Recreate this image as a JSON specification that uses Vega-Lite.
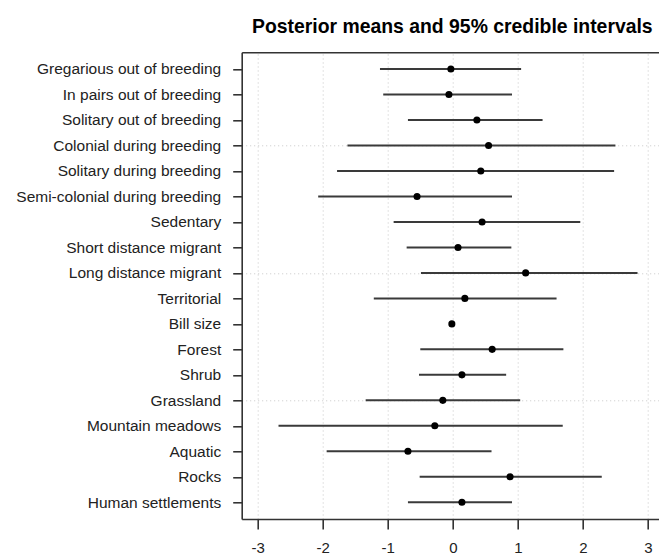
{
  "$schema": "https://vega.github.io/schema/vega-lite/v6.json",
  "autosize": "none",
  "width": 417.3,
  "height": 466.7,
  "padding": {"left": 241.7, "top": 52.3, "right": 0, "bottom": 36.7},
  "background": "white",
  "config": {
    "view": {"stroke": null},
    "font": "Liberation Sans",
    "axis": {"labelFont": "Liberation Sans", "labelColor": "#222", "domainColor": "#333", "domainWidth": 1.6, "tickColor": "#333", "tickWidth": 1.6, "titleFont": "Liberation Sans"}
  },
  "title": {
    "text": "Posterior means and 95% credible intervals",
    "font": "Liberation Sans",
    "fontSize": 19.4,
    "fontWeight": "bold",
    "color": "#000",
    "anchor": "middle",
    "dx": 2,
    "baseline": "alphabetic",
    "offset": 0
  },
  "data": {
    "values": [
      {"trait": "Gregarious out of breeding", "mean": -0.03, "lo": -1.12, "hi": 1.05},
      {"trait": "In pairs out of breeding", "mean": -0.06, "lo": -1.07, "hi": 0.91},
      {"trait": "Solitary out of breeding", "mean": 0.37, "lo": -0.69, "hi": 1.38},
      {"trait": "Colonial during breeding", "mean": 0.55, "lo": -1.62, "hi": 2.5},
      {"trait": "Solitary during breeding", "mean": 0.43, "lo": -1.78, "hi": 2.48},
      {"trait": "Semi-colonial during breeding", "mean": -0.55, "lo": -2.07, "hi": 0.91},
      {"trait": "Sedentary", "mean": 0.45, "lo": -0.91, "hi": 1.96},
      {"trait": "Short distance migrant", "mean": 0.08, "lo": -0.71, "hi": 0.9},
      {"trait": "Long distance migrant", "mean": 1.12, "lo": -0.49, "hi": 2.84},
      {"trait": "Territorial", "mean": 0.185, "lo": -1.215, "hi": 1.595},
      {"trait": "Bill size", "mean": -0.015, "lo": -0.05, "hi": 0.03},
      {"trait": "Forest", "mean": 0.605, "lo": -0.5, "hi": 1.7},
      {"trait": "Shrub", "mean": 0.14, "lo": -0.52, "hi": 0.82},
      {"trait": "Grassland", "mean": -0.154, "lo": -1.34, "hi": 1.036},
      {"trait": "Mountain meadows", "mean": -0.277, "lo": -2.68, "hi": 1.69},
      {"trait": "Aquatic", "mean": -0.69, "lo": -1.94, "hi": 0.595},
      {"trait": "Rocks", "mean": 0.88, "lo": -0.51, "hi": 2.29},
      {"trait": "Human settlements", "mean": 0.14, "lo": -0.69, "hi": 0.91}
    ]
  },
  "encoding": {
    "y": {
      "field": "trait",
      "type": "nominal",
      "sort": null,
      "title": null,
      "scale": {"type": "point", "padding": 0.655},
      "axis": {
        "orient": "left",
        "labelFontSize": 15.5,
        "labelLimit": 400,
        "labelPadding": 12,
        "tickSize": 9,
        "grid": true,
        "gridColor": "#c8c8c8",
        "gridDash": [1, 3],
        "gridWidth": 1,
        "gridOpacity": {"condition": {"test": "indexof(['Colonial during breeding','Long distance migrant','Grassland'], datum.value) >= 0", "value": 1}, "value": 0}
      }
    }
  },
  "layer": [
    {
      "mark": {"type": "rule", "color": "#3a3a3a", "strokeWidth": 2},
      "encoding": {
        "x": {
          "field": "lo",
          "type": "quantitative",
          "title": null,
          "scale": {"domain": [-3.246, 3.17], "nice": false, "zero": false},
          "axis": {
            "orient": "bottom",
            "values": [-3, -2, -1, 0, 1, 2, 3],
            "labelExpr": "datum.value < 0 ? '-' + abs(datum.value) : '' + datum.value",
            "labelFontSize": 15,
            "labelPadding": 12,
            "tickSize": 10,
            "grid": true,
            "gridColor": "#c8c8c8",
            "gridDash": [1, 3],
            "gridWidth": 1
          }
        },
        "x2": {"field": "hi"}
      }
    },
    {
      "mark": {"type": "rule", "color": "#333", "strokeWidth": 2.2, "strokeDash": [6, 3]},
      "encoding": {
        "x": {"datum": 0, "type": "quantitative", "axis": {"orient": "top", "labels": false, "ticks": false, "grid": false, "domain": true, "title": null}}
      }
    },
    {
      "mark": {"type": "point", "filled": true, "color": "#000", "opacity": 1, "size": 50},
      "encoding": {
        "x": {"field": "mean", "type": "quantitative", "axis": null}
      }
    }
  ]
}
